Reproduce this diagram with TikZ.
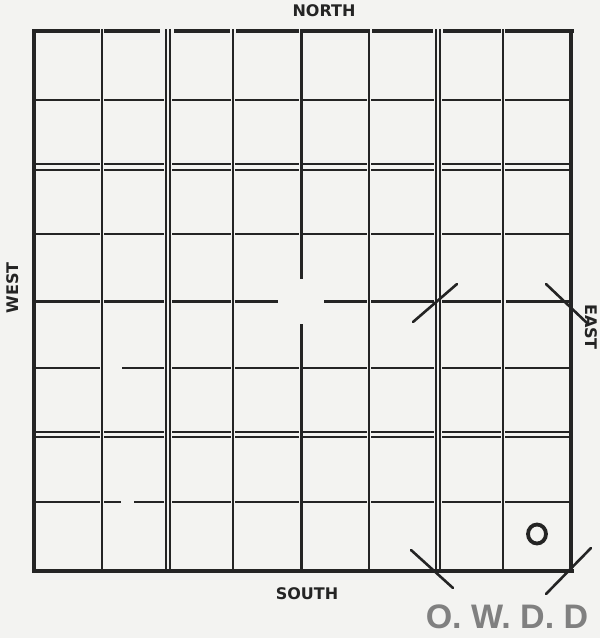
\documentclass[tikz,border=0pt]{standalone}
\usepackage{fontspec}
\setsansfont{DejaVu Sans}
\newfontfamily\stampfont{Liberation Sans}
\definecolor{ink}{RGB}{36,36,36}
\definecolor{paper}{RGB}{243,243,241}
\definecolor{stampgray}{RGB}{128,128,128}
\begin{document}
\begin{tikzpicture}[x=1pt,y=-1pt,
  gridline/.style={ink,line width=1.3pt},
  heavyline/.style={ink,line width=3pt},
  borderline/.style={ink,line width=4pt},
  lbl/.style={font=\sffamily\bfseries\fontsize{16}{16}\selectfont,text=ink,inner sep=0pt},
  stampmark/.style={ink,line width=2.6pt,line cap=round}]
\fill[paper] (0,0) rectangle (600,638);
\useasboundingbox (0,0) rectangle (600,638);

% vertical grid lines
\foreach \x in {102,166,170,233,369,436,440,503}
  \draw[gridline] (\x,29) -- (\x,571);
% heavy center vertical with gap
\draw[heavyline] (301,29) -- (301,279);
\draw[heavyline] (301,324) -- (301,571);

% horizontal grid lines (broken at verticals)
\foreach \y in {100,164,170,234,432,437}
  \foreach \a/\b in {36/100,104/164,172/231,235/299,303/367,371/434,442/501,505/569}
    \draw[gridline] (\a,\y) -- (\b,\y);
% y = 368 with erased gap
\foreach \a/\b in {36/100,122/164,172/231,235/299,303/367,371/434,442/501,505/569}
  \draw[gridline] (\a,368) -- (\b,368);
% y = 502 with erased gap
\foreach \a/\b in {36/100,104/121,134/164,172/231,235/299,303/367,371/434,442/501,505/569}
  \draw[gridline] (\a,502) -- (\b,502);
% heavy center horizontal with gap
\foreach \a/\b in {36/100,104/164,172/231,235/278,324/367,371/434,442/501,506/569}
  \draw[heavyline] (\a,301) -- (\b,301);

% borders
\foreach \a/\b in {32/100,104/160,174/230,236/299,303/368,372/433,443/501,505/574}
  \draw[ink,line width=3.5pt] (\a,31) -- (\b,31);
\draw[borderline] (34,29) -- (34,573);
\draw[borderline] (571,29) -- (571,573);
\draw[borderline] (32,571) -- (574,571);

% section marks
\draw[stampmark] (413,322) -- (457,284);
\draw[stampmark] (546,284) -- (587,323);
\draw[stampmark] (411,550) -- (453,588);
\draw[stampmark] (546,594) -- (591,548);

% handwritten O
\draw[ink,line width=3.8pt] (537,534) ellipse [x radius=9, y radius=9.5];

% labels
\node[lbl] (north) at (324,11) {NORTH};
\node[lbl] (south) at (307,594) {SOUTH};
\node[lbl,rotate=90] (west) at (13,288) {WEST};
\node[lbl,rotate=-90] (east) at (591,327) {EAST};

% stamp
\node[font=\stampfont\bfseries\fontsize{34}{34}\selectfont,text=stampgray,inner sep=0pt] (owdd) at (507,617) {O. W. D. D};
\end{tikzpicture}
\end{document}
